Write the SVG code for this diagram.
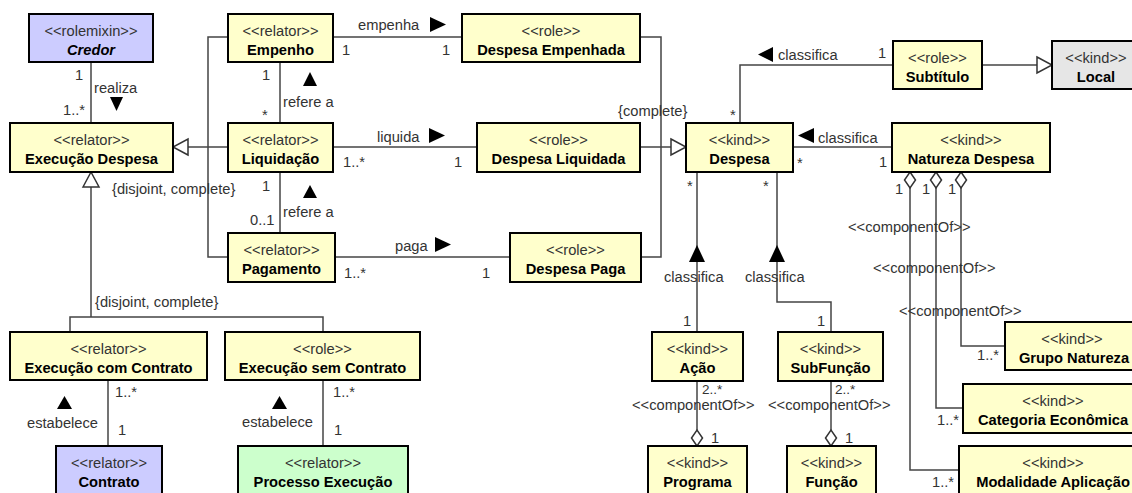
<svg xmlns="http://www.w3.org/2000/svg" width="1132" height="493" viewBox="0 0 1132 493">
<style>
.n rect{fill:#FFFFCC;stroke:#000;stroke-width:2}
.n.p rect{fill:#CCCCFF}
.n.g rect{fill:#CCFFCC}
.n.k rect{fill:#E6E6E6}
.st{font-family:"Liberation Sans",Arial,sans-serif;font-size:14.7px;fill:#333;text-anchor:middle}
.nm{font-family:"Liberation Sans",Arial,sans-serif;font-size:14.7px;font-weight:bold;fill:#000;text-anchor:middle}
.it{font-style:italic}
.lb{font-family:"Liberation Sans",Arial,sans-serif;font-size:14.7px;fill:#333}
.sm{font-size:13.5px}
.c{fill:none;stroke:#444;stroke-width:1.5}
.gen{marker-end:url(#gen)}
.agg{marker-start:url(#dia)}
.dir{fill:#000}
</style>
<defs>
<marker id="gen" markerUnits="userSpaceOnUse" markerWidth="18" markerHeight="20" refX="15" refY="8" orient="auto" overflow="visible">
<path d="M0,0 L15,8 L0,16 Z" fill="#fff" stroke="#333" stroke-width="1.5"/>
</marker>
<marker id="dia" markerUnits="userSpaceOnUse" markerWidth="18" markerHeight="14" refX="0" refY="5.5" orient="auto" overflow="visible">
<path d="M0,5.5 L8,0 L16,5.5 L8,11 Z" fill="#fff" stroke="#333" stroke-width="1.5"/>
</marker>
</defs>
<rect width="1132" height="493" fill="#fff"/>

<g id="connectors">
<path class="c" d="M91,62 V123"/>
<path class="c" d="M228,37 H208 V257 H228"/>
<path class="c gen" d="M228,147 H173"/>
<path class="c" d="M280,62 V123"/>
<path class="c" d="M280,172 V233"/>
<path class="c" d="M333,37 H462"/>
<path class="c" d="M333,147 H477"/>
<path class="c" d="M335,257 H510"/>
<path class="c" d="M640,37 H661 V257 H641"/>
<path class="c gen" d="M640,147 H686"/>
<path class="c" d="M740,123 V65 H893"/>
<path class="c gen" d="M982,65 H1052"/>
<path class="c" d="M793,147 H892"/>
<path class="c" d="M697,172 V332"/>
<path class="c" d="M777,172 V302 H831 V332"/>
<path class="c agg" d="M697,446 V381"/>
<path class="c agg" d="M831,446 V381"/>
<path class="c agg" d="M910,172 V470 H959"/>
<path class="c agg" d="M936,172 V408 H963"/>
<path class="c agg" d="M961,172 V346 H1005"/>
<path class="c gen" d="M91,317 V172"/>
<path class="c" d="M70,332 V317 H323 V332"/>
<path class="c" d="M108,380 V446"/>
<path class="c" d="M323,380 V446"/>

<polygon class="dir" points="110,97 123,97 116.5,111"/>
<polygon class="dir" points="303,86 317,86 310,72"/>
<polygon class="dir" points="303,198 317,198 310,185"/>
<polygon class="dir" points="430,17 446,24.5 430,32"/>
<polygon class="dir" points="429,128 445,135.5 429,143"/>
<polygon class="dir" points="435,237 451,244.5 435,252"/>
<polygon class="dir" points="773,47 773,62 758,54.5"/>
<polygon class="dir" points="814,128 814,143 798,135.5"/>
<polygon class="dir" points="689,262 705,262 697,245"/>
<polygon class="dir" points="769,262 785,262 777,245"/>
<polygon class="dir" points="57,409 72,409 64.5,396"/>
<polygon class="dir" points="272,409 287,409 279.5,396"/>

<text class="lb" x="75" y="80">1</text>
<text class="lb" x="63" y="115">1..*</text>
<text class="lb" x="94" y="93">realiza</text>
<text class="lb" x="262" y="80">1</text>
<text class="lb" x="262" y="120">*</text>
<text class="lb" x="283" y="107">refere a</text>
<text class="lb" x="262" y="191">1</text>
<text class="lb" x="250" y="225">0..1</text>
<text class="lb" x="283" y="217">refere a</text>
<text class="lb" x="112" y="194">{disjoint, complete}</text>
<text class="lb" x="358" y="30">empenha</text>
<text class="lb" x="342" y="55">1</text>
<text class="lb" x="442" y="55">1</text>
<text class="lb" x="377" y="142">liquida</text>
<text class="lb" x="343" y="167">1..*</text>
<text class="lb" x="454" y="167">1</text>
<text class="lb" x="395" y="251">paga</text>
<text class="lb" x="344" y="278">1..*</text>
<text class="lb" x="482" y="278">1</text>
<text class="lb" x="618" y="116">{complete}</text>
<text class="lb" x="730" y="120">*</text>
<text class="lb" x="778" y="60">classifica</text>
<text class="lb" x="878" y="58">1</text>
<text class="lb" x="818" y="143">classifica</text>
<text class="lb" x="797" y="168">*</text>
<text class="lb" x="879" y="167">1</text>
<text class="lb" x="687" y="191">*</text>
<text class="lb" x="763" y="191">*</text>
<text class="lb" x="664" y="282">classifica</text>
<text class="lb" x="745" y="282">classifica</text>
<text class="lb" x="683" y="326">1</text>
<text class="lb" x="817" y="326">1</text>
<text class="lb sm" x="702" y="394">2..*</text>
<text class="lb" x="632" y="410">&lt;&lt;componentOf&gt;&gt;</text>
<text class="lb" x="711" y="443">1</text>
<text class="lb sm" x="835" y="394">2..*</text>
<text class="lb" x="768" y="410">&lt;&lt;componentOf&gt;&gt;</text>
<text class="lb" x="845" y="443">1</text>
<text class="lb" x="895" y="194">1</text>
<text class="lb" x="922" y="194">1</text>
<text class="lb" x="948" y="194">1</text>
<text class="lb" x="848" y="232">&lt;&lt;componentOf&gt;&gt;</text>
<text class="lb" x="873" y="273">&lt;&lt;componentOf&gt;&gt;</text>
<text class="lb" x="899" y="316">&lt;&lt;componentOf&gt;&gt;</text>
<text class="lb" x="977" y="360">1..*</text>
<text class="lb" x="937" y="425">1..*</text>
<text class="lb" x="932" y="487">1..*</text>
<text class="lb" x="95" y="307">{disjoint, complete}</text>
<text class="lb" x="115" y="397">1..*</text>
<text class="lb" x="118" y="435">1</text>
<text class="lb" x="27" y="428">estabelece</text>
<text class="lb" x="333" y="397">1..*</text>
<text class="lb" x="334" y="435">1</text>
<text class="lb" x="242" y="427">estabelece</text>
</g>

<g id="credor" class="n p"><rect x="29" y="14" width="124" height="48"/><text class="st" x="91" y="36">&lt;&lt;rolemixin&gt;&gt;</text><text class="nm it" x="91" y="54.5">Credor</text></g>
<g id="execucao-despesa" class="n"><rect x="10" y="123" width="163" height="49"/><text class="st" x="91.5" y="145">&lt;&lt;relator&gt;&gt;</text><text class="nm" x="91.5" y="163.5">Execução Despesa</text></g>
<g id="empenho" class="n"><rect x="228" y="14" width="105" height="48"/><text class="st" x="280.5" y="36">&lt;&lt;relator&gt;&gt;</text><text class="nm" x="280.5" y="54.5">Empenho</text></g>
<g id="liquidacao" class="n"><rect x="228" y="123" width="105" height="49"/><text class="st" x="280.5" y="145">&lt;&lt;relator&gt;&gt;</text><text class="nm" x="280.5" y="163.5">Liquidação</text></g>
<g id="pagamento" class="n"><rect x="228" y="233" width="107" height="49"/><text class="st" x="281.5" y="255">&lt;&lt;relator&gt;&gt;</text><text class="nm" x="281.5" y="273.5">Pagamento</text></g>
<g id="despesa-empenhada" class="n"><rect x="462" y="14" width="178" height="48"/><text class="st" x="551" y="36">&lt;&lt;role&gt;&gt;</text><text class="nm" x="551" y="54.5">Despesa Empenhada</text></g>
<g id="despesa-liquidada" class="n"><rect x="477" y="123" width="163" height="49"/><text class="st" x="558.5" y="145">&lt;&lt;role&gt;&gt;</text><text class="nm" x="558.5" y="163.5">Despesa Liquidada</text></g>
<g id="despesa-paga" class="n"><rect x="510" y="233" width="131" height="49"/><text class="st" x="575.5" y="255">&lt;&lt;role&gt;&gt;</text><text class="nm" x="575.5" y="273.5">Despesa Paga</text></g>
<g id="despesa" class="n"><rect x="686" y="123" width="107" height="49"/><text class="st" x="739.5" y="145">&lt;&lt;kind&gt;&gt;</text><text class="nm" x="739.5" y="163.5">Despesa</text></g>
<g id="subtitulo" class="n"><rect x="893" y="41" width="89" height="48"/><text class="st" x="937.5" y="63">&lt;&lt;role&gt;&gt;</text><text class="nm" x="937.5" y="81.5">Subtítulo</text></g>
<g id="local" class="n k"><rect x="1052" y="41" width="88" height="48"/><text class="st" x="1096" y="63">&lt;&lt;kind&gt;&gt;</text><text class="nm" x="1096" y="81.5">Local</text></g>
<g id="natureza-despesa" class="n"><rect x="892" y="123" width="158" height="49"/><text class="st" x="971" y="145">&lt;&lt;kind&gt;&gt;</text><text class="nm" x="971" y="163.5">Natureza Despesa</text></g>
<g id="execucao-com-contrato" class="n"><rect x="10" y="332" width="197" height="48"/><text class="st" x="108.5" y="354">&lt;&lt;relator&gt;&gt;</text><text class="nm" x="108.5" y="372.5">Execução com Contrato</text></g>
<g id="execucao-sem-contrato" class="n"><rect x="225" y="332" width="195" height="48"/><text class="st" x="322.5" y="354">&lt;&lt;role&gt;&gt;</text><text class="nm" x="322.5" y="372.5">Execução sem Contrato</text></g>
<g id="contrato" class="n p"><rect x="56" y="446" width="106" height="52"/><text class="st" x="109" y="468">&lt;&lt;relator&gt;&gt;</text><text class="nm" x="109" y="486.5">Contrato</text></g>
<g id="processo-execucao" class="n g"><rect x="238" y="446" width="170" height="52"/><text class="st" x="323" y="468">&lt;&lt;relator&gt;&gt;</text><text class="nm" x="323" y="486.5">Processo Execução</text></g>
<g id="acao" class="n"><rect x="652" y="332" width="91" height="49"/><text class="st" x="697.5" y="354">&lt;&lt;kind&gt;&gt;</text><text class="nm" x="697.5" y="372.5">Ação</text></g>
<g id="programa" class="n"><rect x="648" y="446" width="99" height="52"/><text class="st" x="697.5" y="468">&lt;&lt;kind&gt;&gt;</text><text class="nm" x="697.5" y="486.5">Programa</text></g>
<g id="subfuncao" class="n"><rect x="778" y="332" width="105" height="49"/><text class="st" x="830.5" y="354">&lt;&lt;kind&gt;&gt;</text><text class="nm" x="830.5" y="372.5">SubFunção</text></g>
<g id="funcao" class="n"><rect x="787" y="446" width="89" height="52"/><text class="st" x="831.5" y="468">&lt;&lt;kind&gt;&gt;</text><text class="nm" x="831.5" y="486.5">Função</text></g>
<g id="grupo-natureza" class="n"><rect x="1005" y="322" width="134" height="48"/><text class="st" x="1072" y="344">&lt;&lt;kind&gt;&gt;</text><text class="nm" x="1074" y="362.5">Grupo Natureza</text></g>
<g id="categoria-economica" class="n"><rect x="963" y="384" width="180" height="49"/><text class="st" x="1053" y="406">&lt;&lt;kind&gt;&gt;</text><text class="nm" x="1053" y="424.5">Categoria Econômica</text></g>
<g id="modalidade-aplicacao" class="n"><rect x="959" y="446" width="188" height="52"/><text class="st" x="1053" y="468">&lt;&lt;kind&gt;&gt;</text><text class="nm" x="1053" y="486.5">Modalidade Aplicação</text></g>
</svg>
